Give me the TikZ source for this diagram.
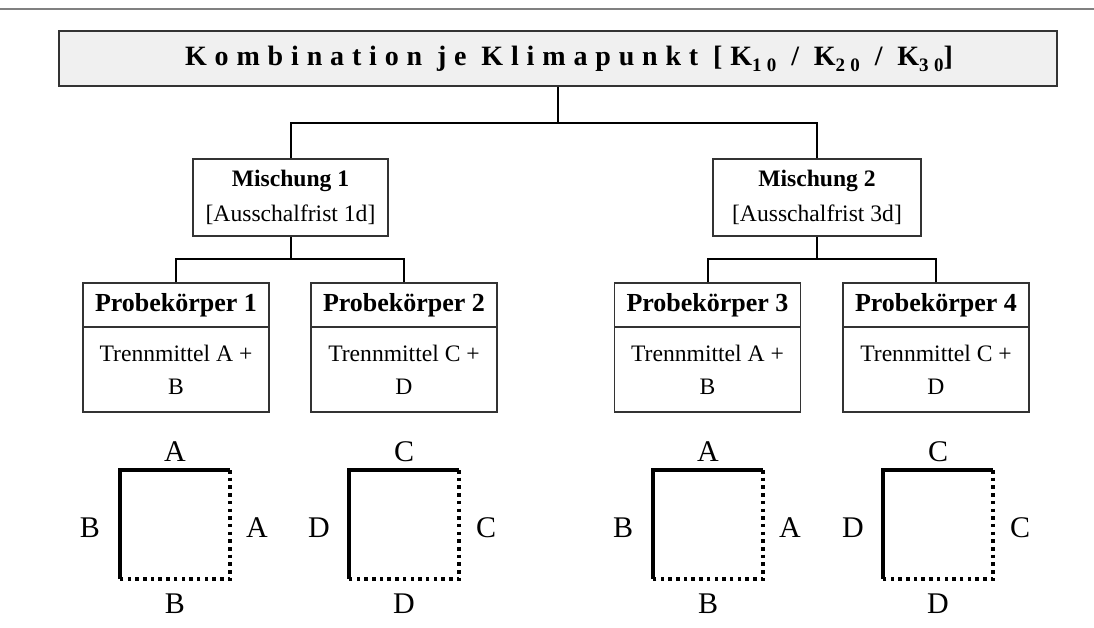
\documentclass[tikz,border=0pt]{standalone}
\usepackage{fontspec}
\setmainfont{Liberation Serif}
\newfontfamily\spacedfont[LetterSpace=28]{Liberation Serif}
\definecolor{boxline}{HTML}{333333}
\definecolor{titlefill}{HTML}{F0F0F0}
\definecolor{rulegray}{HTML}{808080}
\tikzset{
  box/.style={draw=boxline, line width=1.3pt, fill=white, inner sep=0pt, align=center},
  link/.style={line width=2pt, black},
  solidedge/.style={line width=3.5pt, black, line join=miter},
  dotedge/.style={line width=3.5pt, black, dash pattern=on 3.5pt off 4.2pt},
  lab/.style={inner sep=0pt, font=\fontsize{30}{30}\selectfont},
  txt/.style={font=\fontsize{23.6}{35}\selectfont},
}
\newcommand{\subidx}[1]{\raisebox{-6pt}{\fontsize{19}{19}\selectfont #1}}
\begin{document}
\begin{tikzpicture}[x=1pt, y=-1pt]
  \useasboundingbox (0,0) rectangle (1094,628);
  % top rule
  \draw[rulegray, line width=1.4pt] (0,9) -- (1094,9);

  % title box
  \node[box, fill=titlefill, minimum width=998pt, minimum height=55pt] (t) at (558,58.5)
    {\hspace*{22pt}\fontsize{28}{30}\selectfont\spacedfont\bfseries
     Kombination je Klimapunkt [K\subidx{10} / K\subidx{20} / K\subidx{30}]};

  % mixtures
  \node[box, txt, minimum width=195pt, minimum height=77pt] (m1) at (290.5,197.5)
    {\textbf{Mischung 1}\\{}[Ausschalfrist 1d]};
  \node[box, txt, minimum width=208pt, minimum height=77pt] (m2) at (817,197.5)
    {\textbf{Mischung 2}\\{}[Ausschalfrist 3d]};

  % specimens: header and body
  \foreach \n/\x/\a/\b in {1/176/A/B, 2/404/C/D, 3/707.5/A/B, 4/936/C/D} {
    \node[box, minimum width=186pt, minimum height=44pt,
          font=\fontsize{26}{30}\selectfont\bfseries] (p\n h) at (\x,305) {Probekörper \n};
    \node[box, txt, font=\fontsize{23.6}{33}\selectfont, minimum width=186pt,
          minimum height=85pt] (p\n b) at (\x,369.5) {Trennmittel \a\ +\\ \b};
  }

  % connectors
  \coordinate (s0) at (558,123);
  \coordinate (s1) at (290.5,259);
  \coordinate (s2) at (817,259);
  \draw[link] (t.south) -- (s0) (m1.north) |- (s0) (m2.north) |- (s0);
  \draw[link] (m1.south) -- (s1) (p1h.north) |- (s1) (p2h.north) |- (s1);
  \draw[link] (m2.south) -- (s2) (p3h.north) |- (s2) (p4h.north) |- (s2);

  % edge sketches of the specimens
  \foreach \i/\x/\t/\s in {1/120/A/B, 2/349/C/D, 3/653/A/B, 4/883/C/D} {
    \coordinate (q\i-nw) at (\x,470);
    \coordinate (q\i-se) at (\x+110,579);
    \draw[solidedge] (q\i-nw |- q\i-se) -- (q\i-nw) -- (q\i-se |- q\i-nw);
    \draw[dotedge] (q\i-se |- q\i-nw) -- (q\i-se) -- (q\i-nw |- q\i-se);
    \node[lab] (q\i-top) at (\x+55,452) {\t};
    \node[lab] (q\i-left) at (\x-30,528) {\s};
    \node[lab] (q\i-right) at (\x+137,528) {\t};
    \node[lab] (q\i-bottom) at (\x+55,604) {\s};
  }
\end{tikzpicture}
\end{document}
